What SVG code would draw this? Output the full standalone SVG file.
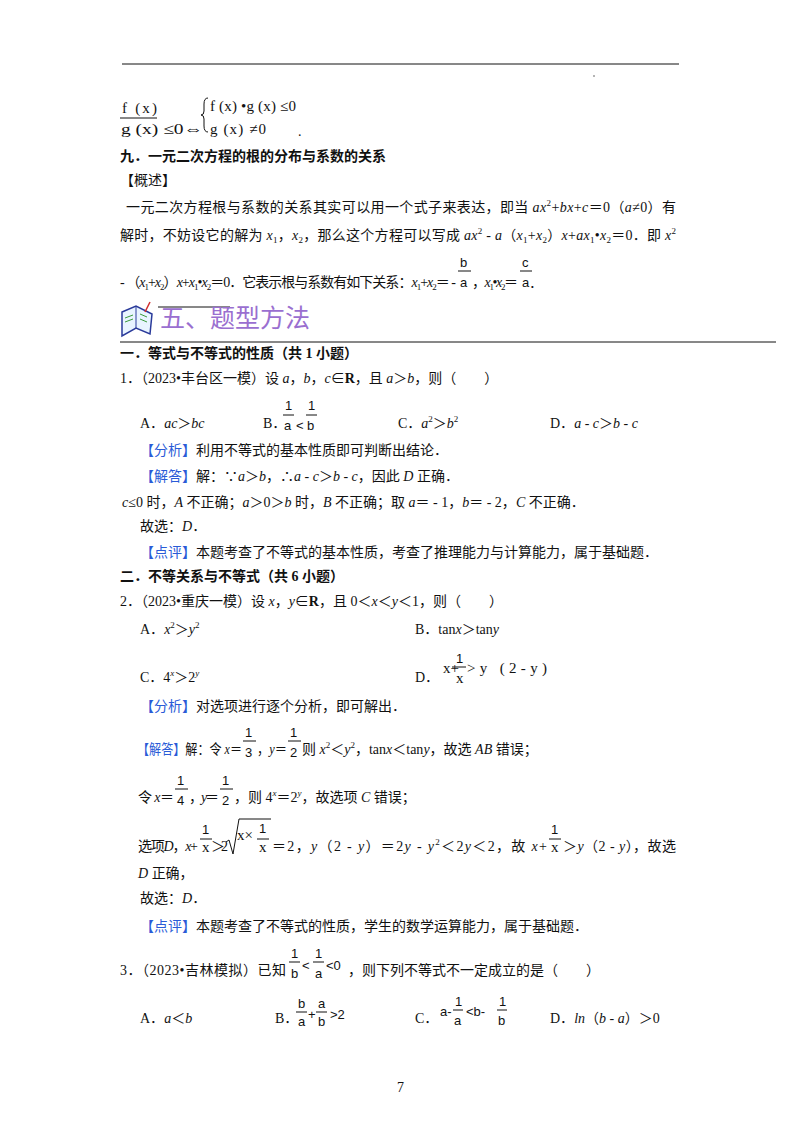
<svg xmlns="http://www.w3.org/2000/svg" width="800" height="1132" viewBox="0 0 800 1132">
<style>
text{font-family:"Liberation Serif","Noto Sans CJK SC",serif;font-size:14px;fill:#111}
.b{font-weight:bold}
.i{font-style:italic}
.bl{fill:#2a5bd7}
.s{font-family:"Liberation Sans","Noto Sans CJK SC",sans-serif;font-size:13px}
.f{font-family:"Liberation Serif",serif;font-size:15px}
.h{font-family:"Noto Sans CJK SC",sans-serif;font-size:25px;fill:#9a6fd0}
.sup{font-size:9px}
line{stroke:#111;stroke-width:1}
</style>
<rect width="800" height="1132" fill="#fff"/>
<line x1="122" y1="64" x2="679" y2="64" stroke-width="1.5"/>
<circle cx="594" cy="76" r="0.8" fill="#555"/>
<g id="formula">
<text class="f" x="122" y="113" textLength="35" lengthAdjust="spacing">f (x)</text>
<line x1="120" y1="118" x2="157" y2="118"/>
<text class="f" x="121" y="134" textLength="82" lengthAdjust="spacingAndGlyphs">g (x) ≤0⇔</text>
<path d="M208,98 q-4,0 -4,6 v7 q0,4 -3,4 q3,0 3,4 v7 q0,6 4,6" fill="none" stroke="#111"/>
<text class="f" x="210" y="111" textLength="86" lengthAdjust="spacing">f (x) •g (x) ≤0</text>
<text class="f" x="210" y="134" textLength="56" lengthAdjust="spacing">g (x) ≠0</text>
<text x="298" y="136">.</text>
</g>
<text class="b" x="120" y="161">九．一元二次方程的根的分布与系数的关系</text>
<text x="120" y="185">【概述】</text>
<text x="126" y="212" textLength="550" lengthAdjust="spacing">一元二次方程根与系数的关系其实可以用一个式子来表达，即当 <tspan class="i">ax</tspan><tspan class="sup" dy="-6">2</tspan><tspan dy="6">+</tspan><tspan class="i">bx</tspan>+<tspan class="i">c</tspan>＝0（<tspan class="i">a</tspan>≠0）有</text>
<text x="120" y="240" textLength="556" lengthAdjust="spacing">解时，不妨设它的解为 <tspan class="i">x</tspan><tspan class="sup" dy="3">1</tspan><tspan dy="-3">，</tspan><tspan class="i">x</tspan><tspan class="sup" dy="3">2</tspan><tspan dy="-3">，那么这个方程可以写成 </tspan><tspan class="i">ax</tspan><tspan class="sup" dy="-6">2</tspan><tspan dy="6"> - </tspan><tspan class="i">a</tspan>（<tspan class="i">x</tspan><tspan class="sup" dy="3">1</tspan><tspan dy="-3">+</tspan><tspan class="i">x</tspan><tspan class="sup" dy="3">2</tspan><tspan dy="-3">）</tspan><tspan class="i">x</tspan>+<tspan class="i">ax</tspan><tspan class="sup" dy="3">1</tspan><tspan dy="-3">•</tspan><tspan class="i">x</tspan><tspan class="sup" dy="3">2</tspan><tspan dy="-3">＝0．即 </tspan><tspan class="i">x</tspan><tspan class="sup" dy="-6">2</tspan></text>
<text x="120" y="287" textLength="336" lengthAdjust="spacing"> - （<tspan class="i">x</tspan><tspan class="sup" dy="3">1</tspan><tspan dy="-3">+</tspan><tspan class="i">x</tspan><tspan class="sup" dy="3">2</tspan><tspan dy="-3">）</tspan><tspan class="i">x</tspan>+<tspan class="i">x</tspan><tspan class="sup" dy="3">1</tspan><tspan dy="-3">•</tspan><tspan class="i">x</tspan><tspan class="sup" dy="3">2</tspan><tspan dy="-3">＝0．它表示根与系数有如下关系：</tspan><tspan class="i">x</tspan><tspan class="sup" dy="3">1</tspan><tspan dy="-3">+</tspan><tspan class="i">x</tspan><tspan class="sup" dy="3">2</tspan><tspan dy="-3">＝ -</tspan></text>
<text class="s" x="460" y="267">b</text><line x1="458" y1="271" x2="471" y2="271"/>
<text class="s" x="460" y="287">a</text>
<text x="472" y="287" textLength="46" lengthAdjust="spacing">，<tspan class="i">x</tspan><tspan class="sup" dy="3">1</tspan><tspan dy="-3">•</tspan><tspan class="i">x</tspan><tspan class="sup" dy="3">2</tspan><tspan dy="-3">＝</tspan></text>
<text class="s" x="522" y="267">c</text><line x1="520" y1="271" x2="532" y2="271"/>
<text class="s" x="522" y="287">a．</text>
<g id="icon">
<path d="M122,312 l14,-6 l16,8 l-2,20 l-14,-6 l-14,8 z" fill="#e8f4ff" stroke="#2a3a9a" stroke-width="1.5"/>
<path d="M136,306 l0,22" stroke="#2a3a9a"/>
<path d="M125,318 l8,-3 M125,322 l8,-3 M140,314 l7,3 M140,319 l7,3" stroke="#3a9a3a"/>
<path d="M145,312 l5,-10" stroke="#d03030" stroke-width="1.5"/>
</g>
<line x1="158" y1="307" x2="230" y2="307" stroke="#2a5bd7"/>
<text class="h" x="160" y="327">五、题型方法</text>
<line x1="120" y1="342" x2="776" y2="342" stroke="#2a8ad7" stroke-width="2"/>
<text class="b" x="120" y="358">一．等式与不等式的性质（共 1 小题）</text>
<text x="120" y="383">1．（2023•丰台区一模）设 <tspan class="i">a</tspan>，<tspan class="i">b</tspan>，<tspan class="i">c</tspan>∈<tspan class="b">R</tspan>，且 <tspan class="i">a</tspan>＞<tspan class="i">b</tspan>，则（　　）</text>
<text x="140" y="428">A．<tspan class="i">ac</tspan>＞<tspan class="i">bc</tspan></text>
<text x="263" y="428">B．</text>
<text class="s" x="285" y="410">1</text><line x1="283" y1="415" x2="294" y2="415"/>
<text class="s" x="284" y="430">a</text><text class="s" x="296" y="430">&lt;</text>
<text class="s" x="308" y="410">1</text><line x1="306" y1="415" x2="317" y2="415"/>
<text class="s" x="307" y="430">b</text>
<text x="398" y="428">C．<tspan class="i">a</tspan><tspan class="sup" dy="-6">2</tspan><tspan dy="6">＞</tspan><tspan class="i">b</tspan><tspan class="sup" dy="-6">2</tspan></text>
<text x="550" y="428">D．<tspan class="i">a</tspan> - <tspan class="i">c</tspan>＞<tspan class="i">b</tspan> - <tspan class="i">c</tspan></text>
<text x="140" y="455"><tspan class="bl">【分析】</tspan>利用不等式的基本性质即可判断出结论．</text>
<text x="140" y="481"><tspan class="bl">【解答】</tspan>解：∵<tspan class="i">a</tspan>＞<tspan class="i">b</tspan>，∴<tspan class="i">a</tspan> - <tspan class="i">c</tspan>＞<tspan class="i">b</tspan> - <tspan class="i">c</tspan>，因此 <tspan class="i">D</tspan> 正确．</text>
<text x="122" y="507"><tspan class="i">c</tspan>≤0 时，<tspan class="i">A</tspan> 不正确；<tspan class="i">a</tspan>＞0＞<tspan class="i">b</tspan> 时，<tspan class="i">B</tspan> 不正确；取 <tspan class="i">a</tspan>＝ - 1，<tspan class="i">b</tspan>＝ - 2，<tspan class="i">C</tspan> 不正确．</text>
<text x="140" y="531">故选：<tspan class="i">D</tspan>．</text>
<text x="140" y="557"><tspan class="bl">【点评】</tspan>本题考查了不等式的基本性质，考查了推理能力与计算能力，属于基础题．</text>
<text class="b" x="120" y="581">二．不等关系与不等式（共 6 小题）</text>
<text x="120" y="606">2．（2023•重庆一模）设 <tspan class="i">x</tspan>，<tspan class="i">y</tspan>∈<tspan class="b">R</tspan>，且 0＜<tspan class="i">x</tspan>＜<tspan class="i">y</tspan>＜1，则（　　）</text>
<text x="140" y="634">A．<tspan class="i">x</tspan><tspan class="sup" dy="-6">2</tspan><tspan dy="6">＞</tspan><tspan class="i">y</tspan><tspan class="sup" dy="-6">2</tspan></text>
<text x="415" y="634">B．tan<tspan class="i">x</tspan>＞tan<tspan class="i">y</tspan></text>
<text x="140" y="682">C．4<tspan class="sup i" dy="-6">x</tspan><tspan dy="6">＞2</tspan><tspan class="sup i" dy="-6">y</tspan></text>
<text x="415" y="682">D．</text>
<text class="f" x="443" y="673">x+</text>
<text class="s" x="456" y="663" font-size="15">1</text><line x1="452" y1="667" x2="466" y2="667"/>
<text class="f" x="456" y="683">x</text>
<text class="f" x="467" y="673" textLength="80" lengthAdjust="spacing">&gt;y (2-y)</text>
<text x="140" y="711"><tspan class="bl">【分析】</tspan>对选项进行逐个分析，即可解出．</text>
<text class="s" x="245" y="737" font-size="15">1</text><line x1="243" y1="741" x2="256" y2="741"/>
<text class="s" x="245" y="757" font-size="15">3</text>
<text class="s" x="290" y="737" font-size="15">1</text><line x1="288" y1="741" x2="301" y2="741"/>
<text class="s" x="290" y="757" font-size="15">2</text>
<text x="137" y="754" font-size="13.5" textLength="105" lengthAdjust="spacingAndGlyphs"><tspan class="bl">【解答】</tspan>解：令 <tspan class="i">x</tspan>＝</text>
<text x="257" y="754" font-size="13.5" textLength="30" lengthAdjust="spacingAndGlyphs">，<tspan class="i">y</tspan>＝</text>
<text x="302" y="754">则 <tspan class="i">x</tspan><tspan class="sup" dy="-6">2</tspan><tspan dy="6">＜</tspan><tspan class="i">y</tspan><tspan class="sup" dy="-6">2</tspan><tspan dy="6">，tan</tspan><tspan class="i">x</tspan>＜tan<tspan class="i">y</tspan>，故选 <tspan class="i">AB</tspan> 错误；</text>
<text class="s" x="177" y="785" font-size="15">1</text><line x1="175" y1="789" x2="188" y2="789"/>
<text class="s" x="177" y="805" font-size="15">4</text>
<text class="s" x="222" y="785" font-size="15">1</text><line x1="220" y1="789" x2="233" y2="789"/>
<text class="s" x="222" y="805" font-size="15">2</text>
<text x="138" y="802" textLength="36" lengthAdjust="spacing">令 <tspan class="i">x</tspan>＝</text>
<text x="189" y="802" textLength="30" lengthAdjust="spacing">，<tspan class="i">y</tspan>＝</text>
<text x="234" y="802">，则 4<tspan class="sup i" dy="-6">x</tspan><tspan dy="6">＝2</tspan><tspan class="sup i" dy="-6">y</tspan><tspan dy="6">，故选项 </tspan><tspan class="i">C</tspan> 错误；</text>
<text x="138" y="851" textLength="60" lengthAdjust="spacing">选项<tspan class="i">D</tspan>，<tspan class="i">x</tspan>+</text>
<text class="s" x="202" y="834" font-size="15">1</text><line x1="200" y1="839" x2="212" y2="839"/>
<text class="f" x="202" y="852">x</text>
<text x="211" y="851" textLength="17" lengthAdjust="spacing">＞2</text>
<path d="M226,842 l3,-2 l4,14 l6,-35 h32" fill="none" stroke="#111"/>
<text class="f" x="237" y="840">x×</text>
<text class="s" x="259" y="833" font-size="15">1</text><line x1="257" y1="839" x2="269" y2="839"/>
<text class="f" x="259" y="852">x</text>
<text x="272" y="851" textLength="275" lengthAdjust="spacing">＝2，<tspan class="i">y</tspan>（2 - <tspan class="i">y</tspan>）＝2<tspan class="i">y</tspan> - <tspan class="i">y</tspan><tspan class="sup" dy="-6">2</tspan><tspan dy="6">＜2</tspan><tspan class="i">y</tspan>＜2，故 <tspan class="i">x</tspan>+</text>
<text class="s" x="551" y="834" font-size="15">1</text><line x1="549" y1="839" x2="561" y2="839"/>
<text class="f" x="551" y="852">x</text>
<text x="563" y="851" textLength="113" lengthAdjust="spacing">＞<tspan class="i">y</tspan>（2 - <tspan class="i">y</tspan>），故选</text>
<text x="138" y="878"><tspan class="i">D</tspan> 正确，</text>
<text x="140" y="903">故选：<tspan class="i">D</tspan>．</text>
<text x="140" y="931"><tspan class="bl">【点评】</tspan>本题考查了不等式的性质，学生的数学运算能力，属于基础题．</text>
<text x="120" y="975" textLength="166" lengthAdjust="spacing">3．（2023•吉林模拟）已知</text>
<text class="s" x="291" y="958" font-size="15">1</text><line x1="289" y1="962" x2="300" y2="962"/>
<text class="s" x="291" y="978">b</text>
<text class="s" x="302" y="970" font-size="16">&lt;</text>
<text class="s" x="315" y="958" font-size="15">1</text><line x1="313" y1="962" x2="324" y2="962"/>
<text class="s" x="315" y="978">a</text>
<text class="s" x="326" y="970" font-size="16">&lt;0</text>
<text x="348" y="975">，则下列不等式不一定成立的是（　　）</text>
<text x="140" y="1023">A．<tspan class="i">a</tspan>＜<tspan class="i">b</tspan></text>
<text x="275" y="1023">B．</text>
<text class="s" x="298" y="1008">b</text><line x1="296" y1="1012" x2="307" y2="1012"/>
<text class="s" x="298" y="1026">a</text>
<text class="s" x="308" y="1019">+</text>
<text class="s" x="318" y="1008">a</text><line x1="316" y1="1012" x2="327" y2="1012"/>
<text class="s" x="318" y="1026">b</text>
<text class="s" x="330" y="1019" font-size="15">&gt;2</text>
<text x="415" y="1023">C．</text>
<text class="s" x="440" y="1016">a-</text>
<text class="s" x="455" y="1006">1</text><line x1="453" y1="1010" x2="463" y2="1010"/>
<text class="s" x="454" y="1025">a</text>
<text class="s" x="466" y="1016" font-size="15">&lt;b-</text>
<text class="s" x="499" y="1006">1</text><line x1="497" y1="1010" x2="507" y2="1010"/>
<text class="s" x="498" y="1025">b</text>
<text x="550" y="1023">D．<tspan class="i">ln</tspan>（<tspan class="i">b</tspan> - <tspan class="i">a</tspan>）＞0</text>
<text x="397" y="1092" font-size="12">7</text>
</svg>
